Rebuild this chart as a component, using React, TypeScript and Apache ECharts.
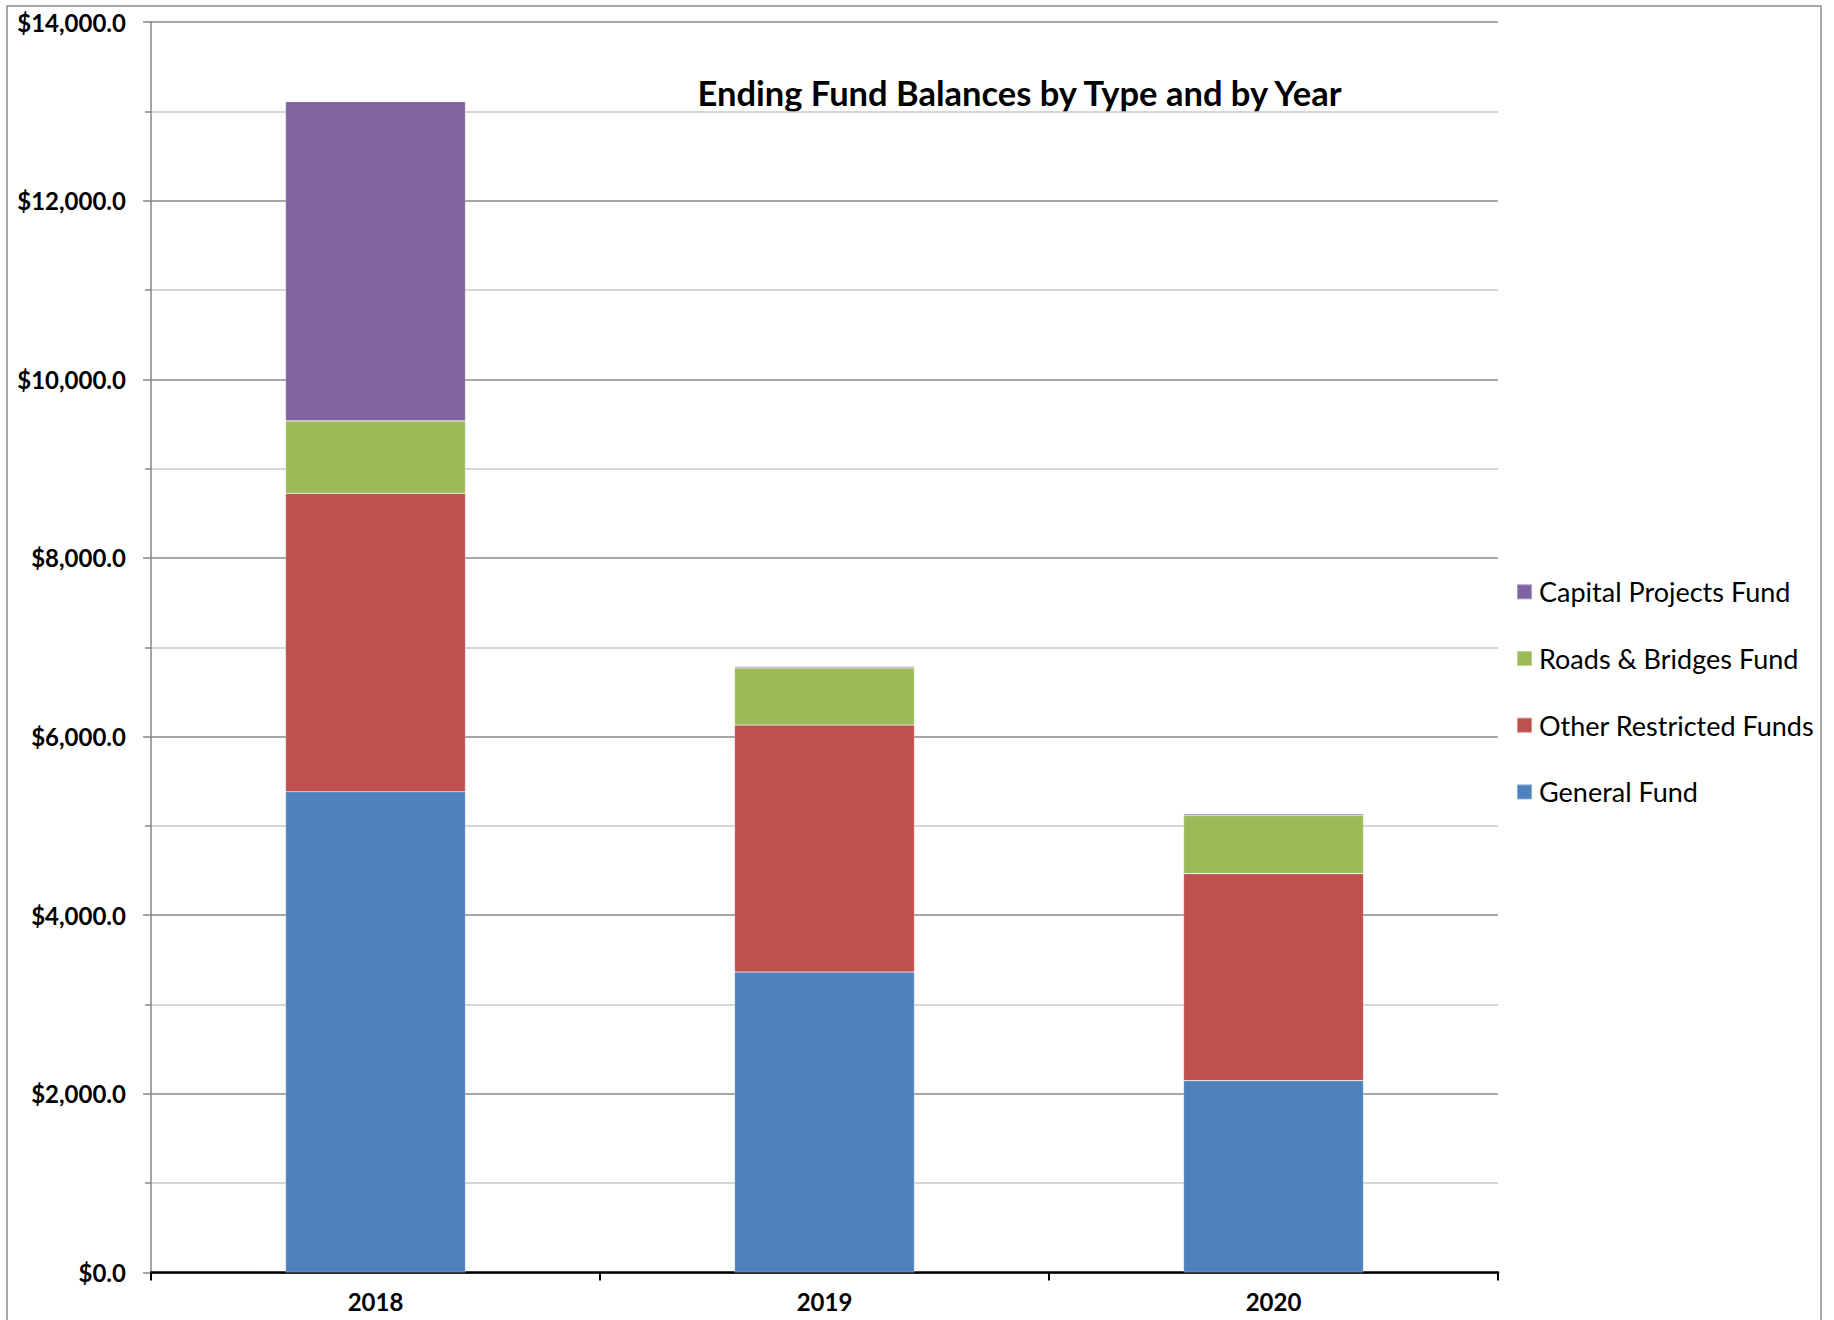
import React, { useEffect, useRef } from "react";
import * as echarts from "echarts";

const years = ["2018", "2019", "2020"];
const generalFund = [5382, 3364, 2148];
const otherRestricted = [3340, 2765, 2318];
const roadsBridges = [812, 640, 650];
const capitalProjects = [3575, 15, 18];
const legendOrder = ["Capital Projects Fund", "Roads & Bridges Fund", "Other Restricted Funds", "General Fund"];
const titleText = "Ending Fund Balances by Type and by Year";

export default function App() {
  const ref = useRef<HTMLDivElement>(null);
  useEffect(() => {
    document.body.style.margin = "0";
    const chart = echarts.init(ref.current!, null, { renderer: "svg" });
    const font = "Lato";
    const mk = (name: string, data: number[], color: string) => ({
      name,
      type: "bar",
      stack: "total",
      barWidth: 180,
      data,
      itemStyle: { color, borderColor: "rgba(255,255,255,0.35)", borderWidth: 0.6 },
    });
    chart.setOption({
      animation: false,
      backgroundColor: "#ffffff",
      textStyle: { fontFamily: font },
      grid: { left: 151, right: 336, top: 22, bottom: 47.5 },
      legend: {
        orient: "vertical",
        left: 1516,
        top: 578.3,
        padding: 0,
        itemWidth: 15,
        itemHeight: 15,
        itemGap: 39.7,
        icon: "rect",
        data: legendOrder,
        textStyle: { fontFamily: font, fontSize: 27, color: "#000", lineHeight: 27, padding: [0, 0, 0, 2] },
      },
      xAxis: {
        type: "category",
        data: years,
        axisLine: { lineStyle: { color: "#000", width: 2.5 } },
        axisTick: { show: true, length: 8, lineStyle: { color: "#000", width: 2 } },
        axisLabel: { fontFamily: font, fontWeight: "bold", fontSize: 24, color: "#000", margin: 17 },
      },
      yAxis: {
        type: "value",
        min: 0,
        max: 14000,
        interval: 2000,
        axisLine: { show: true, lineStyle: { color: "#868686", width: 1.5 } },
        axisTick: { show: true, length: 8, lineStyle: { color: "#868686", width: 1.5 } },
        minorTick: { show: true, splitNumber: 2, length: 6, lineStyle: { color: "#868686", width: 1.5 } },
        splitLine: { show: true, lineStyle: { color: "#8a8a8a", width: 1.5 } },
        minorSplitLine: { show: true, lineStyle: { color: "#c8c8c8", width: 1.5 } },
        axisLabel: {
          fontFamily: font,
          fontWeight: "bold",
          fontSize: 24,
          color: "#000",
          margin: 25,
          formatter: (v: number) =>
            "$" + v.toLocaleString("en-US", { minimumFractionDigits: 1, maximumFractionDigits: 1 }),
        },
      },
      graphic: [
        {
          type: "rect",
          shape: { x: 7, y: 6, width: 1814, height: 1330 },
          style: { fill: "none", stroke: "#8c8c8c", lineWidth: 1.5 },
          silent: true,
        },
        {
          type: "text",
          x: 1019.5,
          y: 92.4,
          style: {
            text: titleText,
            fontFamily: font,
            fontWeight: "bold",
            fontSize: 34.5,
            fill: "#000",
            align: "center",
            verticalAlign: "middle",
          },
        },
      ],
      series: [
        mk("General Fund", generalFund, "#4F81BD"),
        mk("Other Restricted Funds", otherRestricted, "#C0504D"),
        mk("Roads & Bridges Fund", roadsBridges, "#9BBB59"),
        mk("Capital Projects Fund", capitalProjects, "#8064A2"),
      ],
    });
    return () => chart.dispose();
  }, []);
  return <div ref={ref} style={{ position: "absolute", left: 0, top: 0, width: 1834, height: 1320 }} />;
}
